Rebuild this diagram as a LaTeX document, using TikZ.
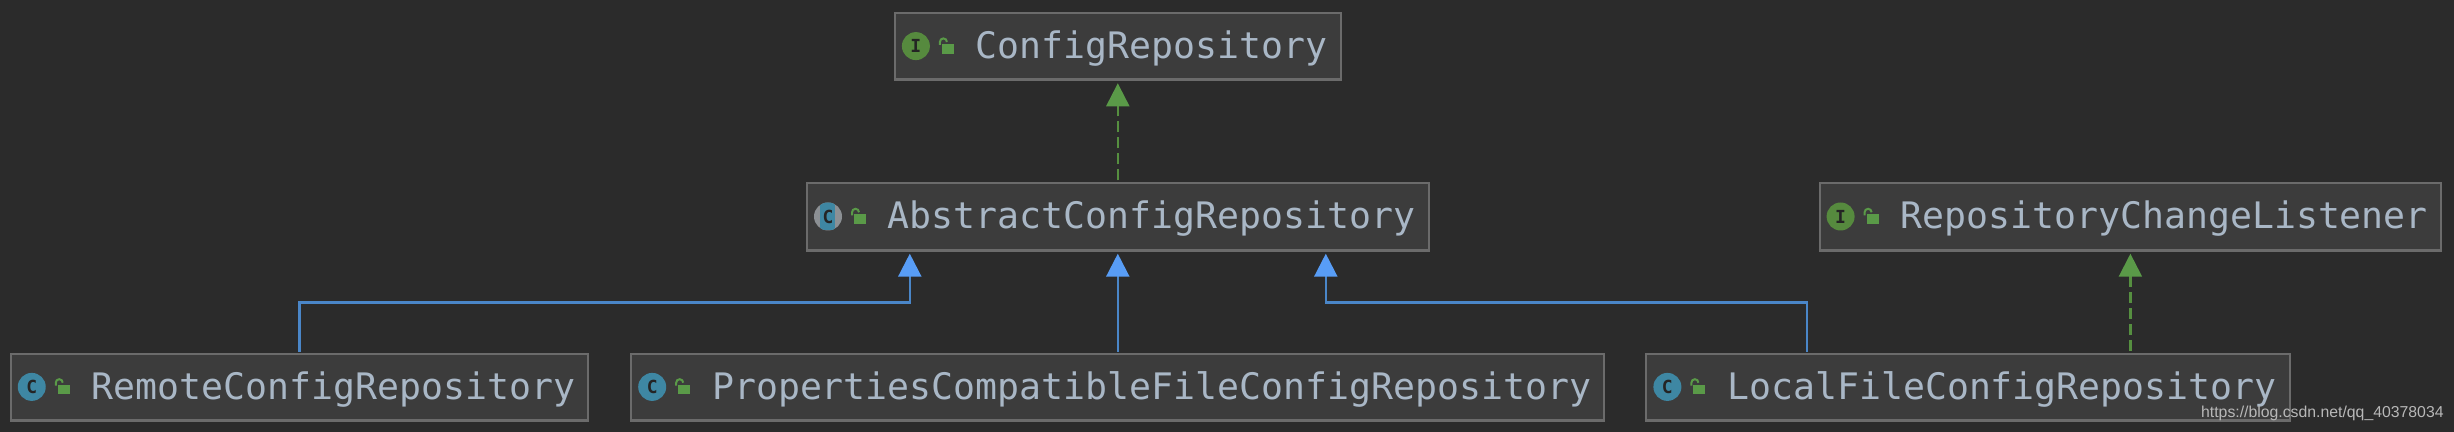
\documentclass[tikz,border=0pt]{standalone}
\usepackage{fontspec}
\setmonofont{DejaVu Sans Mono}
\newfontfamily\markfont{Liberation Sans}
\usetikzlibrary{arrows.meta,positioning}
\definecolor{bgdark}{HTML}{2B2B2B}
\definecolor{boxfill}{HTML}{3C3C3C}
\definecolor{boxline}{HTML}{6B6B6B}
\definecolor{nametext}{HTML}{A9B7C6}
\definecolor{kindblue}{HTML}{3E87A3}
\definecolor{kindgreen}{HTML}{568A3E}
\definecolor{kindgray}{HTML}{8C9094}
\definecolor{lockgreen}{HTML}{5A9A48}
\definecolor{lineblue}{HTML}{4A86C8}
\definecolor{tipblue}{HTML}{589DF6}
\definecolor{linegreen}{HTML}{568F40}

\begin{document}
\begin{tikzpicture}[
  classbox/.style={draw=boxline, fill=boxfill, line width=1pt, text=nametext,
                   font=\ttfamily\fontsize{18.25pt}{20pt}\selectfont,
                   inner xsep=6.65pt, inner ysep=0pt, minimum height=33.7pt,
                   text height=14pt, text depth=2pt,
                   execute at begin node=\hspace{33.8pt}},
  boxedge/.style={boxline, line width=1.5pt},
  kind/.style={circle, minimum size=14pt, inner sep=0pt, text=bgdark!85!black,
               font=\ttfamily\bfseries\fontsize{9pt}{10pt}\selectfont},
  kindC/.style={kind, fill=kindblue},
  kindI/.style={kind, fill=kindgreen},
  kindA/.style={kind, fill=kindgray, path picture={
                \fill[kindblue] ([xshift=-3.9pt]path picture bounding box.south)
                  rectangle ([xshift=3.6pt]path picture bounding box.north);}},
  lockbody/.style={fill=lockgreen, minimum width=6pt, minimum height=4.9pt,
                   inner sep=0pt, outer sep=0pt},
  lockbar/.style={lockgreen, line width=1pt},
  impl/.style={-{Triangle[length=11.5pt,width=11.5pt,color=lockgreen]}, linegreen,
               line width=1.1pt, dash pattern=on 5.5pt off 2.5pt,
               shorten >=1pt, shorten <=1pt},
  ext/.style={-{Triangle[length=11.5pt,width=11.5pt,color=tipblue]}, lineblue,
              line width=1.2pt, shorten >=1pt, shorten <=.5pt}
]
\fill[bgdark] (0,0) rectangle (1227pt,-216pt);
\useasboundingbox (0,0) rectangle (1227pt,-216pt);
% class boxes
\node[classbox] (cfg) at (558.9pt,-23.3pt) {ConfigRepository};
\node[classbox, below=50.5pt of cfg] (abstract) {AbstractConfigRepository};
\node[classbox, right=194.5pt of abstract] (listener) {RepositoryChangeListener};
\node[classbox, below=50.5pt of abstract] (compat) {PropertiesCompatibleFileConfigRepository};
\node[classbox, left=20.4pt of compat] (remote) {RemoteConfigRepository};
\node[classbox, right=20pt of compat] (localfile) {LocalFileConfigRepository};
% heavier lower edge
\foreach \n in {cfg,abstract,listener,compat,remote,localfile}
  \draw[boxedge] ([yshift=.75pt]\n.south west) -- ([yshift=.75pt]\n.south east);
% kind badges and locks
\foreach \n/\k/\c in {cfg/kindI/I,listener/kindI/I,abstract/kindA/C,compat/kindC/C,remote/kindC/C,localfile/kindC/C}{
  \node[\k] (\n-icon) at ([xshift=11pt,yshift=.25pt]\n.west) {\c};
  \node[lockbody] (\n-lock) at ([xshift=27pt,yshift=-1.1pt]\n.west) {};
  \draw[lockbar] ([xshift=-1pt,yshift=-.5pt]\n-lock.north west) -- ++(0,1.5pt)
    arc[start angle=180, end angle=0, radius=1.75pt];
}
% connectors
\coordinate (abstract-l) at ([xshift=-104pt]abstract.south);
\coordinate (abstract-r) at ([xshift=104pt]abstract.south);
\coordinate (localfile-l) at ([xshift=-80.5pt]localfile.north);
\draw[impl] (abstract.north) -- (cfg.south);
\draw[impl] (localfile.north -| listener.south) -- (listener.south);
\draw[ext] (compat.north -| abstract.south) -- (abstract.south);
\draw[ext] (remote.north) -- ++(0,25pt) -| (abstract-l);
\draw[ext] (localfile-l) -- ++(0,25pt) -| (abstract-r);
% watermark
\node[anchor=east, inner sep=0pt, text=white!72!black, font=\markfont\fontsize{7.9pt}{9pt}\selectfont]
  (mark) at (1222pt,-206.5pt) {https://blog.csdn.net/qq\_40378034};
\end{tikzpicture}
\end{document}
